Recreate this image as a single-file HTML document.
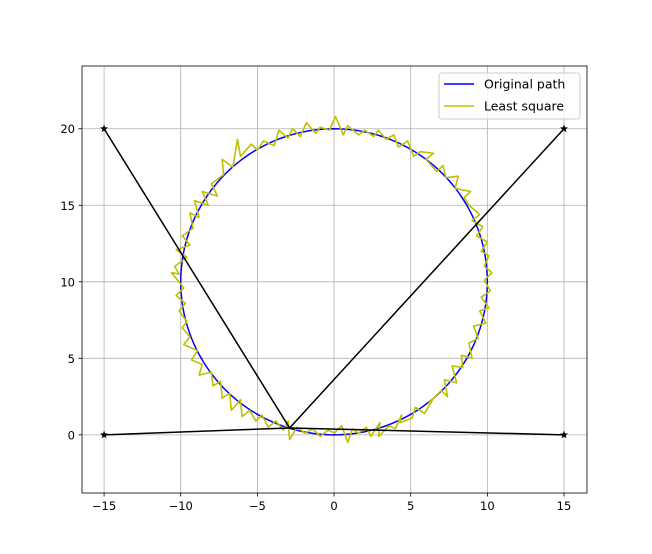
<!DOCTYPE html>
<html><head><meta charset="utf-8"><style>
html,body{margin:0;padding:0;background:#fff;}
svg{display:block;font-family:"DejaVu Sans","Liberation Sans",sans-serif;}
</style></head><body>
<svg id="chart" width="652" height="554" viewBox="0 0 652 554"></svg>
<script>
const xTicks = [-15, -10, -5, 0, 5, 10, 15];
const yTicks = [0, 5, 10, 15, 20];
const anchors = [[-15, 20], [15, 20], [-15, 0], [15, 0]];
const target = [-2.9, 0.45];
const estimate = [[0,0.1],[0.5,0.6],[0.9,-0.5],[1.2,0.4],[1.6,0.1],[2.1,0.5],[2.4,-0.1],[3.0,0.8],[2.9,-0.1],[3.6,0.6],[4.0,0.4],[4.4,1.3],[4.3,0.8],
[5.1,1.1],[5.3,1.8],[5.9,1.4],[6.5,2.4],[6.2,2.1],[7.0,2.9],[7.4,2.5],[7.2,3.6],[8.0,3.4],[7.7,4.5],[8.4,4.4],[8.3,5.2],
[9.0,5.0],[8.8,6.0],[9.4,6.3],[9.1,7.1],[9.9,7.3],[9.5,8.1],[10.1,8.3],[9.6,9.0],[10.2,9.4],[9.8,10.1],
[10.3,10.6],[9.8,11.0],[10.1,11.7],[9.6,12.0],[10.0,12.6],[9.3,13.0],[9.7,13.6],[9.0,14.0],[9.5,14.4],[8.8,15.0],
[8.5,15.5],[8.9,15.9],[7.9,16.1],[8.1,16.9],[7.3,16.8],[7.1,17.6],[6.7,17.2],[6.0,18.0],[6.5,18.4],[5.6,18.5],[5.2,18.2],[4.8,19.2],
[4.2,18.8],[3.9,19.6],[3.4,19.3],[2.9,19.9],[2.6,19.5],[2.0,19.9],[1.6,19.6],[0.9,20.2],[0.6,19.6],[0.1,20.8],[-0.3,19.9],
[-0.9,20.1],[-1.2,19.7],[-1.8,20.4],[-2.2,19.5],[-2.7,20.0],[-3.0,19.4],[-3.6,19.9],[-3.9,18.9],[-4.6,19.2],[-5.0,18.6],[-5.4,19.0],
[-6.1,18.2],[-6.3,19.3],[-6.6,17.5],[-7.3,18.0],[-7.2,17.0],[-8.0,16.4],[-7.6,15.6],[-8.6,15.9],[-8.2,15.0],[-9.1,15.3],
[-8.8,14.2],[-9.4,14.5],[-9.2,13.5],[-9.9,13.0],[-9.4,12.4],[-10.3,12.1],[-9.6,11.6],[-10.4,11.0],[-10.1,10.5],[-10.6,10.6],
[-9.8,9.6],[-10.3,9.1],[-9.7,8.6],[-10.1,8.1],[-9.6,7.4],[-9.9,7.0],[-9.4,6.4],[-9.8,5.9],[-8.9,5.5],[-9.3,4.9],
[-8.6,4.6],[-8.8,3.9],[-8.0,4.1],[-7.9,3.2],[-7.4,3.5],[-7.3,2.4],[-6.8,2.7],[-6.7,1.6],[-6.1,2.3],[-6.0,1.2],[-5.5,1.6],
[-5.1,0.9],[-4.7,1.3],[-4.3,0.5],[-3.8,0.9],[-3.3,0.3],[-3.0,0.9],[-2.9,-0.3],[-2.4,0.5],[-1.9,0.1],[-1.4,0.4],[-0.9,-0.1],[-0.4,0.3],[0.1,0.1]];
const circleCenter = [0, 10];
const circleRadius = 10;

const L=82,R=587,T=66,B=493;
const xMin=-16.44,xMax=16.5,yMin=-3.8,yMax=24.1;
const sx=v=>L+(v-xMin)/(xMax-xMin)*(R-L);
const sy=v=>B-(v-yMin)/(yMax-yMin)*(B-T);
const fmt=v=>v<0?'\u2212'+Math.abs(v):String(v);
const svg=document.getElementById('chart');
const NS='http://www.w3.org/2000/svg';
function mk(tag,attrs,parent){const e=document.createElementNS(NS,tag);for(const k in attrs)e.setAttribute(k,attrs[k]);(parent||svg).appendChild(e);return e;}

xTicks.forEach(v=>{
  const g=mk('line',{x1:sx(v),x2:sx(v),y1:T,y2:B,stroke:'#b0b0b0','stroke-width':0.8});
  
  
  mk('line',{x1:sx(v),x2:sx(v),y1:B,y2:B+3.5,stroke:'#000','stroke-width':0.8});
  const t=mk('text',{x:sx(v),y:B+17,'text-anchor':'middle','font-size':11.5,fill:'#000'});
  t.textContent=fmt(v);
  
  
});
yTicks.forEach(v=>{
  const g=mk('line',{x1:L,x2:R,y1:sy(v),y2:sy(v),stroke:'#b0b0b0','stroke-width':0.8});
  
  
  mk('line',{x1:L-3.5,x2:L,y1:sy(v),y2:sy(v),stroke:'#000','stroke-width':0.8});
  const t=mk('text',{x:L-7,y:sy(v)+4.5,'text-anchor':'end','font-size':11.5,fill:'#000'});
  t.textContent=fmt(v);
  
  
});

let d='';
for(let i=0;i<=180;i++){const a=i/180*2*Math.PI;const x=circleCenter[0]+circleRadius*Math.sin(a),y=circleCenter[1]-circleRadius*Math.cos(a);d+=(i?'L':'M')+sx(x).toFixed(2)+','+sy(y).toFixed(2);}
const orig=mk('path',{d:d,fill:'none',stroke:'#0000ff','stroke-width':1.5});



const ls=mk('polyline',{points:estimate.map(p=>sx(p[0])+','+sy(p[1])).join(' '),fill:'none',stroke:'#bfbf00','stroke-width':1.6,'stroke-linejoin':'round'});



anchors.forEach(a=>{
  const l=mk('line',{x1:sx(a[0]),y1:sy(a[1]),x2:sx(target[0]),y2:sy(target[1]),stroke:'#000','stroke-width':1.5});
  
  
  const cx=sx(a[0]),cy=sy(a[1]);let pts='';
  for(let k=0;k<10;k++){const r=k%2?1.8:4.2;const ang=-Math.PI/2+k*Math.PI/5;pts+=(cx+r*Math.cos(ang)).toFixed(2)+','+(cy+r*Math.sin(ang)).toFixed(2)+' ';}
  const s=mk('polygon',{points:pts,fill:'#000'});
  
  
});

const fr=mk('rect',{x:L,y:T,width:R-L,height:B-T,fill:'none',stroke:'#000','stroke-width':0.8});



const lg=mk('g',{});


mk('rect',{x:439,y:73,width:141,height:46,rx:3,fill:'#fff','fill-opacity':0.8,stroke:'#ccc','stroke-width':1},lg);
const e1=mk('line',{x1:444,x2:474,y1:84,y2:84,stroke:'#0000ff','stroke-width':1.5},lg);


const t1=mk('text',{x:484,y:88.5,'font-size':12.5,fill:'#000'},lg);t1.textContent='Original path';


const e2=mk('line',{x1:444,x2:474,y1:106,y2:106,stroke:'#bfbf00','stroke-width':1.5},lg);


const t2=mk('text',{x:484,y:110.5,'font-size':12.5,fill:'#000'},lg);t2.textContent='Least square';


</script>
</body></html>
